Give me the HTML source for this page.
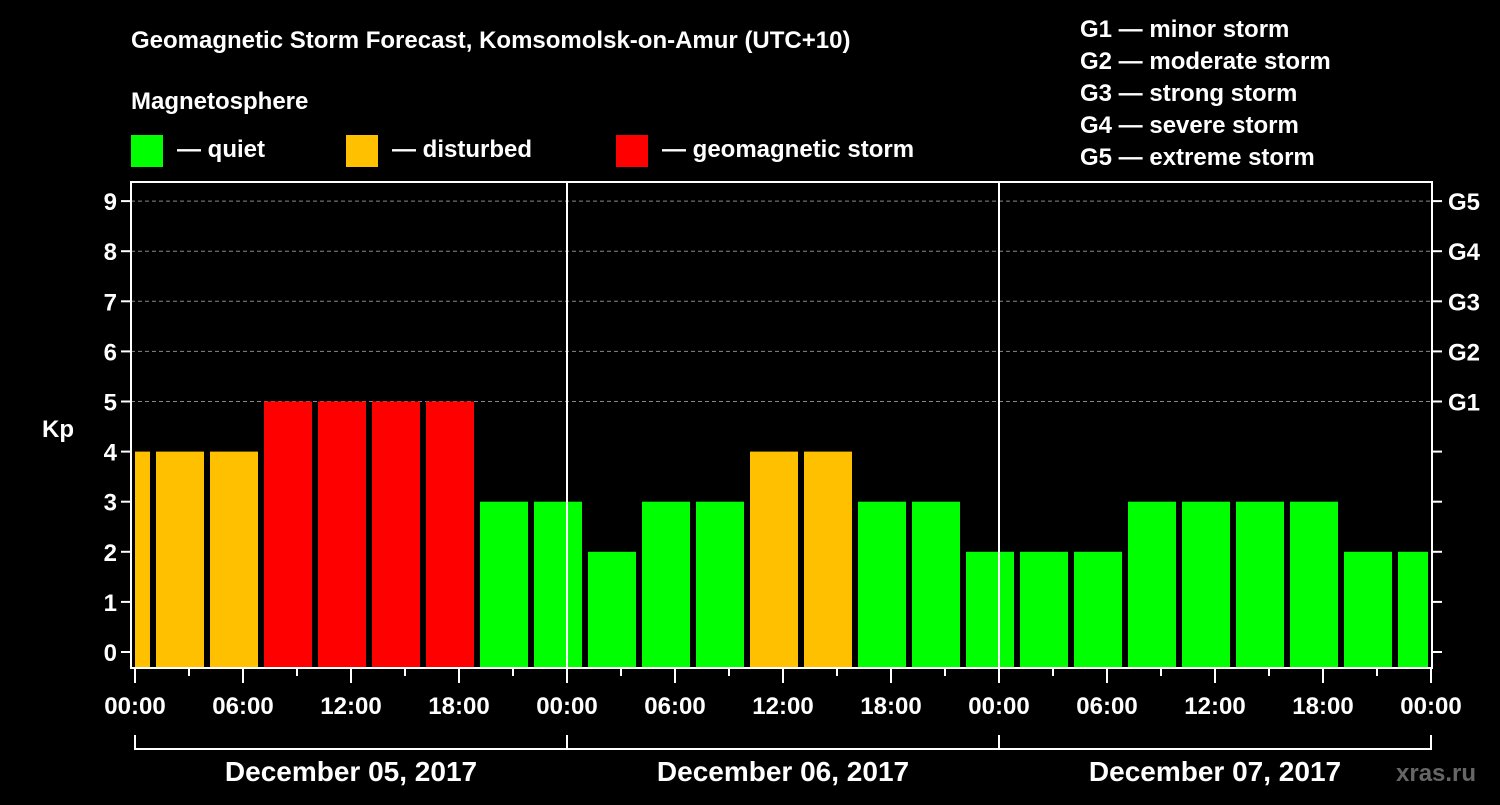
<!DOCTYPE html>
<html><head><meta charset="utf-8"><style>
body{margin:0;background:#000;width:1500px;height:800px;overflow:hidden}
svg text{font-family:"Liberation Sans",sans-serif;font-weight:bold;fill:#fff}
</style></head><body>
<svg id="c" width="1500" height="800">
<text x="131" y="48" font-size="24">Geomagnetic Storm Forecast, Komsomolsk-on-Amur (UTC+10)</text>
<text x="131" y="109" font-size="24">Magnetosphere</text>
<rect x="131" y="135" width="32" height="32" fill="#00ff00"/>
<text x="177" y="157" font-size="24">— quiet</text>
<rect x="346" y="135" width="32" height="32" fill="#ffc000"/>
<text x="392" y="157" font-size="24">— disturbed</text>
<rect x="616" y="135" width="32" height="32" fill="#ff0000"/>
<text x="662" y="157" font-size="24">— geomagnetic storm</text>
<g font-size="24">
<text x="1080" y="37">G1 — minor storm</text>
<text x="1080" y="69">G2 — moderate storm</text>
<text x="1080" y="101">G3 — strong storm</text>
<text x="1080" y="133">G4 — severe storm</text>
<text x="1080" y="165">G5 — extreme storm</text>
</g>
<text x="42" y="437" font-size="24">Kp</text>
<text x="1396" y="781" font-size="24" fill="#666" style="fill:#666">xras.ru</text>
<g id="grid"></g><g id="bars"></g><g id="axes"></g>
</svg>
<script>
const kpValues=[4,4,4,5,5,5,5,3,3,2,3,3,4,4,3,3,2,2,2,3,3,3,3,2,2];
const yTicks=[0,1,2,3,4,5,6,7,8,9];
const gLabels=["G1","G2","G3","G4","G5"];
const xTickLabels=["00:00","06:00","12:00","18:00","00:00","06:00","12:00","18:00","00:00","06:00","12:00","18:00","00:00"];
const dayLabels=["December 05, 2017","December 06, 2017","December 07, 2017"];
const firstSlotHour=-2, slotHours=3;
const L=131,R=1432,T=182,B=668,X0=135,PXH=18;
const y=v=>652-v*50.1;
const x=h=>X0+h*PXH;
const NS="http://www.w3.org/2000/svg";
function mk(tag,a,parent,txt){const e=document.createElementNS(NS,tag);for(const k in a)e.setAttribute(k,a[k]);if(txt!=null)e.textContent=txt;document.getElementById(parent).appendChild(e);return e;}
yTicks.forEach(v=>{
 if(v>=5){const g=mk('line',{x1:L,x2:R,y1:y(v),y2:y(v),stroke:'#888','stroke-dasharray':'4,3','stroke-width':1},'grid');
 
 }
 const t=mk('line',{x1:L-10,x2:L,y1:y(v),y2:y(v),stroke:'#fff','stroke-width':2},'axes');
 
 
 const t2=mk('line',{x1:R,x2:R+10,y1:y(v),y2:y(v),stroke:'#fff','stroke-width':2},'axes');
 
 
 const l=mk('text',{x:L-14,y:y(v)+9,'font-size':24,'text-anchor':'end'},'axes',String(v));
 
 
});
gLabels.forEach((g,i)=>{
 const l=mk('text',{x:R+16,y:y(5+i)+9,'font-size':24},'axes',g);
 
 
});
kpValues.forEach((v,i)=>{
 const h0=firstSlotHour+i*slotHours;
 let x1=x(h0)+3,x2=x(h0+slotHours)-3;
 x1=Math.max(x1,X0);x2=Math.min(x2,R-4);
 const col=v>=5?'#ff0000':v>=4?'#ffc000':'#00ff00';
 const r=mk('rect',{x:x1,y:y(v),width:x2-x1,height:B-y(v),fill:col},'bars');
 
 
});
const f=mk('rect',{x:L,y:T,width:R-L,height:B-T,fill:'none',stroke:'#fff','stroke-width':2},'axes');


for(let d=1;d<3;d++){const s=mk('line',{x1:x(d*24),x2:x(d*24),y1:T,y2:B,stroke:'#fff','stroke-width':2},'axes');
 
 }
for(let h=0;h<=72;h+=3){const maj=h%6==0;
 const t=mk('line',{x1:x(h),x2:x(h),y1:B,y2:B+(maj?15:8),stroke:'#fff','stroke-width':2},'axes');
 
 }
xTickLabels.forEach((s,i)=>{
 const l=mk('text',{x:x(i*6),y:714,'font-size':24,'text-anchor':'middle'},'axes',s);
 
 
});
const br=mk('polyline',{points:`${x(0)},735 ${x(0)},749 ${x(72)},749 ${x(72)},735`,fill:'none',stroke:'#fff','stroke-width':2},'axes');


for(let d=1;d<3;d++){const s=mk('line',{x1:x(d*24),x2:x(d*24),y1:735,y2:749,stroke:'#fff','stroke-width':2},'axes');
 
 }
dayLabels.forEach((s,i)=>{
 const l=mk('text',{x:x(i*24+12),y:781,'font-size':28,'text-anchor':'middle'},'axes',s);
 
 
});
</script>
</body></html>
